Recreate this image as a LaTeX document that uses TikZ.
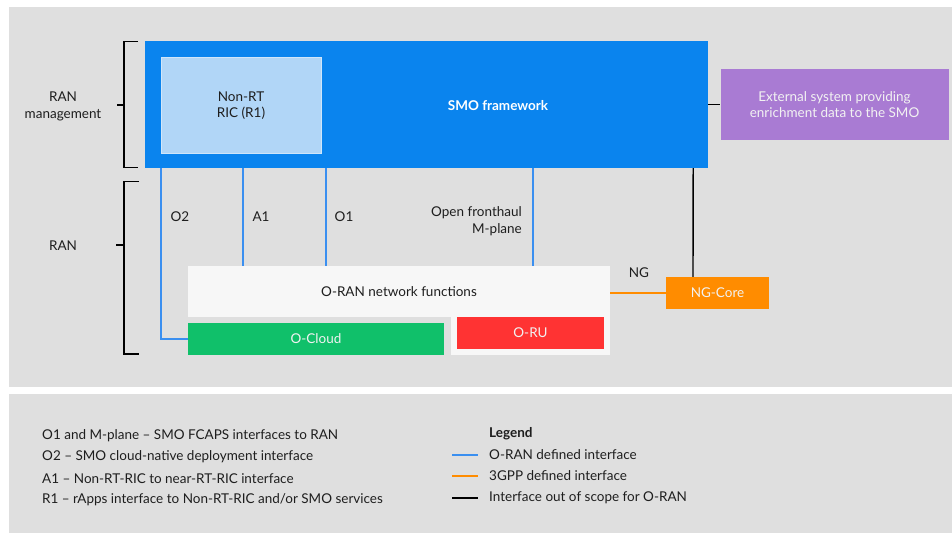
\documentclass[tikz,border=0pt]{standalone}
\usepackage{fontspec}
\setmainfont{Lato}
\definecolor{panelgrey}{HTML}{DFDFDF}
\definecolor{smoblue}{HTML}{0A84EE}
\definecolor{ricblue}{HTML}{B1D6F7}
\definecolor{extpurple}{HTML}{A97BD3}
\definecolor{cloudgreen}{HTML}{10C06A}
\definecolor{rured}{HTML}{FF3333}
\definecolor{coreorange}{HTML}{FF8C00}
\definecolor{nfwhite}{HTML}{F7F7F7}
\definecolor{oranline}{HTML}{3A8FF0}
\definecolor{txt}{HTML}{1E1E1E}
\definecolor{lighttxt}{HTML}{F2F2F2}
\newcommand{\basefont}{\fontsize{13.5}{16.5}\selectfont}
\tikzset{
  box/.style={draw=none, inner sep=0pt, align=center, anchor=center},
  lbl/.style={inner sep=0pt, text=txt, font=\basefont},
  oran/.style={draw=oranline, line width=1.5pt},
  gpp/.style={draw=coreorange, line width=1.8pt},
  outscope/.style={draw=black, line width=1.4pt},
  brk/.style={draw=black, line width=1.5pt},
}
\begin{document}
\begin{tikzpicture}[x=1pt,y=-1pt, font=\basefont]
\useasboundingbox (0,0) rectangle (952,535);
% background panels
\fill[panelgrey] (9,7) rectangle (952,387);
\fill[panelgrey] (9,394) rectangle (952,533);

% SMO and its components
\node[box, fill=smoblue, minimum width=563pt, minimum height=127pt] (smo) at (426.5,104.5) {};
\node[box, fill=ricblue, draw=ricblue!60!white, line width=0.8pt, minimum width=160pt, minimum height=96pt, text=txt] (ric) at (241,105.5) {Non-RT\\RIC (R1)};
\node[lbl, text=white, font=\basefont\bfseries] (smotxt) at (498,105.5) {SMO framework};
\node[box, fill=extpurple, minimum width=228pt, minimum height=71pt, text=lighttxt] (ext) at (834.5,104.5) {External system providing\\enrichment data to the SMO};

% RAN functions
\node[box, fill=nfwhite, minimum width=422pt, minimum height=51pt, text=txt] (nf) at (399,291.5) {O-RAN network functions};
\node[box, fill=nfwhite, minimum width=159pt, minimum height=39pt] (nfx) at (530.5,335.5) {};
\node[box, fill=cloudgreen, minimum width=256pt, minimum height=32pt, text=lighttxt] (ocloud) at (316,339) {O-Cloud};
\node[box, fill=rured, minimum width=147pt, minimum height=32pt, text=lighttxt] (oru) at (530.5,333) {O-RU};
\node[box, fill=coreorange, minimum width=103pt, minimum height=32pt, text=lighttxt] (ngcore) at (717.5,293) {NG-Core};

% interfaces
\draw[oran] ([xshift=16pt]smo.south west) |- (ocloud.west);
\draw[oran] ([xshift=98pt]smo.south west) -- ([xshift=55pt]nf.north west);
\draw[oran] ([xshift=181pt]smo.south west) -- ([xshift=138pt]nf.north west);
\draw[oran] ([xshift=388pt]smo.south west) -- ([xshift=345pt]nf.north west);
\draw[gpp] (nf.east |- ngcore.west) -- (ngcore.west);
\draw[outscope] ([xshift=-15pt]smo.south east) -- ([xshift=-24.5pt]ngcore.north);
\draw[outscope] (smo.east) -- (ext.west);

% interface labels
\node[lbl] (o2lbl) at (180,217) {O2};
\node[lbl] (a1lbl) at (261,217) {A1};
\node[lbl] (o1lbl) at (344,217) {O1};
\node[lbl, align=right, anchor=east] (fhlbl) at (522,221) {Open fronthaul\\M-plane};
\node[lbl] (nglbl) at (639,272.5) {NG};

% brackets
\draw[brk] (138,41.5) -- (124,41.5) -- (124,167.5) -- (138,167.5);
\draw[brk] (117,105) -- (124,105);
\draw[brk] (139,181.5) -- (124,181.5) -- (124,354) -- (139,354);
\draw[brk] (116,245) -- (124,245);
\node[lbl, align=center] (mgmt) at (63,106.5) {RAN\\management};
\node[lbl] (ran) at (63,245.5) {RAN};

% explanations
\node[lbl, anchor=west] (d1) at (42,435.5) {O1 and M-plane -- SMO FCAPS interfaces to RAN};
\node[lbl, anchor=west] (d2) at (42,457) {O2 -- SMO cloud-native deployment interface};
\node[lbl, anchor=west] (d3) at (42,478.5) {A1 -- Non-RT-RIC to near-RT-RIC interface};
\node[lbl, anchor=west] (d4) at (42,500) {R1 -- rApps interface to Non-RT-RIC and/or SMO services};

% legend
\node[lbl, anchor=west, font=\basefont\bfseries] (lgh) at (489,434) {Legend};
\node[lbl, anchor=west] (lg1) at (489,455) {O-RAN defined interface};
\node[lbl, anchor=west] (lg2) at (489,476) {3GPP defined interface};
\node[lbl, anchor=west] (lg3) at (489,498) {Interface out of scope for O-RAN};
\draw[oran] ([xshift=-37pt]lg1.west) -- ([xshift=-11pt]lg1.west);
\draw[gpp] ([xshift=-37pt]lg2.west) -- ([xshift=-11pt]lg2.west);
\draw[outscope] ([xshift=-37pt]lg3.west) -- ([xshift=-11pt]lg3.west);
\end{tikzpicture}
\end{document}
